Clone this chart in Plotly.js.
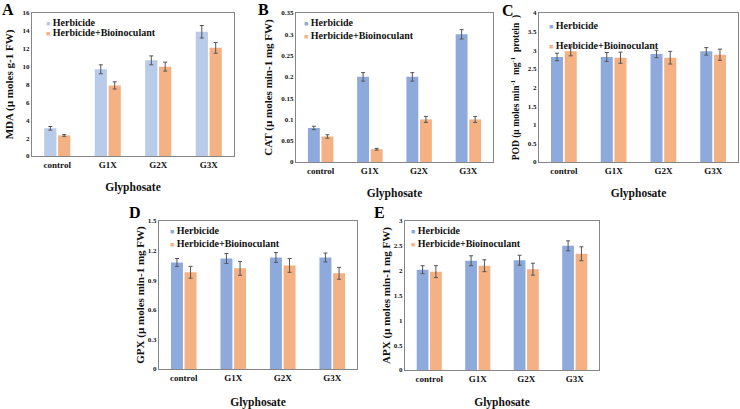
<!DOCTYPE html>
<html>
<head>
<meta charset="utf-8">
<script src="https://cdn.plot.ly/plotly-3.0.1.min.js"></script>
<style>
  html, body { margin: 0; padding: 0; background: #fff; }
  #chart { width: 740px; height: 409px; }
</style>
</head>
<body>
<div id="chart"></div>
<script>
// categories
const doses = ["control", "G1X", "G2X", "G3X"];
const seriesNames = ["Herbicide", "Herbicide+Bioinoculant"];

// A - MDA
const mdaHerb = [3.1, 9.7, 10.7, 13.9];
const mdaHerbErr = [0.2, 0.5, 0.5, 0.7];
const mdaBio = [2.3, 7.9, 10.0, 12.1];
const mdaBioErr = [0.1, 0.4, 0.5, 0.6];

// B - CAT
const catHerb = [0.08, 0.2, 0.2, 0.3];
const catHerbErr = [0.004, 0.01, 0.01, 0.011];
const catBio = [0.06, 0.03, 0.1, 0.1];
const catBioErr = [0.004, 0.002, 0.007, 0.007];

// C - POD
const podHerb = [2.82, 2.82, 2.9, 2.97];
const podHerbErr = [0.1, 0.12, 0.1, 0.1];
const podBio = [2.97, 2.8, 2.8, 2.88];
const podBioErr = [0.12, 0.15, 0.17, 0.15];

// D - GPX
const gpxHerb = [1.08, 1.12, 1.13, 1.13];
const gpxHerbErr = [0.04, 0.05, 0.05, 0.045];
const gpxBio = [0.98, 1.02, 1.05, 0.97];
const gpxBioErr = [0.06, 0.07, 0.07, 0.06];

// E - APX
const apxHerb = [2.02, 2.2, 2.21, 2.5];
const apxHerbErr = [0.08, 0.1, 0.1, 0.1];
const apxBio = [1.98, 2.1, 2.03, 2.34];
const apxBioErr = [0.12, 0.12, 0.12, 0.14];

const serif = "Liberation Serif, Times New Roman, serif";
const blueA = "#b8cbe9";
const blue = "#8eaadc";
const orange = "#f4b183";

function bars(vals, errs, name, color, ax) {
  return {
    type: "bar",
    x: doses,
    y: vals,
    name: name,
    xaxis: "x" + ax,
    yaxis: "y" + ax,
    showlegend: false,
    marker: {color: color, line: {width: 0}},
    error_y: {type: "data", array: errs, visible: true, color: "#555", thickness: 1, width: 2}
  };
}

const data = [
  bars(mdaHerb, mdaHerbErr, seriesNames[0], blueA, ""),
  bars(mdaBio, mdaBioErr, seriesNames[1], orange, ""),
  bars(catHerb, catHerbErr, seriesNames[0], blue, "2"),
  bars(catBio, catBioErr, seriesNames[1], orange, "2"),
  bars(podHerb, podHerbErr, seriesNames[0], blue, "3"),
  bars(podBio, podBioErr, seriesNames[1], orange, "3"),
  bars(gpxHerb, gpxHerbErr, seriesNames[0], blue, "4"),
  bars(gpxBio, gpxBioErr, seriesNames[1], orange, "4"),
  bars(apxHerb, apxHerbErr, seriesNames[0], blue, "5"),
  bars(apxBio, apxBioErr, seriesNames[1], orange, "5")
];

const W = 740, H = 409;
function px(a, b) { return [a / W, b / W]; }
function py(top, bottom) { return [1 - bottom / H, 1 - top / H]; }

function xax(domain, anchor, standoff) {
  return {
    domain: domain, anchor: anchor,
    showline: true, mirror: true, linecolor: "#858585", linewidth: 1,
    ticks: "", showgrid: false, zeroline: false,
    tickfont: {family: serif, size: 9, color: "#111", weight: "bold"},
    title: {text: "Glyphosate", font: {family: serif, size: 11.5, color: "#111", weight: "bold"}, standoff: standoff},
    automargin: false
  };
}
function yax(domain, anchor, range, dtick, title, standoff, tsize) {
  return {
    domain: domain, anchor: anchor, range: range, dtick: dtick,
    showline: true, mirror: true, linecolor: "#858585", linewidth: 1,
    ticks: "", showgrid: false, zeroline: false,
    tickfont: {family: serif, size: 7, color: "#111", weight: "bold"},
    title: {text: title, font: {family: serif, size: tsize || 11, color: "#111", weight: "bold"}, standoff: standoff},
    automargin: false
  };
}
// small square key + series name, the way the source figure draws its keys
// textX = where the name starts, y = its vertical centre (pixels)
function key(name, color, textX, y) {
  return {
    text: '<span style="color:' + color + ';font-size:7px">■</span> ' + name,
    xref: "paper", yref: "paper", x: (textX - 9) / W, y: 1 - y / H,
    xanchor: "left", yanchor: "middle", showarrow: false,
    font: {family: serif, size: 10, color: "#111", weight: "bold"}
  };
}
// panel letter, y = top of its text box (pixels)
function letter(t, x, y) {
  return {text: t, xref: "paper", yref: "paper", x: x / W, y: 1 - y / H,
    showarrow: false, xanchor: "center", yanchor: "top", borderpad: 0,
    font: {family: serif, size: 16, color: "#000", weight: "bold"}};
}

const layout = {
  width: W, height: H,
  margin: {l: 0, r: 0, t: 0, b: 0},
  paper_bgcolor: "#fff", plot_bgcolor: "#fff",
  showlegend: false,
  barmode: "group", bargap: 0.45, bargroupgap: 0.12,
  xaxis: xax(px(32, 234), "y", 14),
  yaxis: yax(py(13, 156), "x", [0, 16], 2, "MDA (µ moles g-1 FW)", 6),
  xaxis2: xax(px(296, 493), "y2", 14),
  yaxis2: yax(py(13, 162), "x2", [0, 0.35], 0.05, "CAT (µ moles min-1 mg FW)", 6),
  xaxis3: xax(px(539, 738), "y3", 14),
  yaxis3: yax(py(13, 162), "x3", [0, 4], 0.5, "POD (µ moles min<sup>-1</sup>  mg<sup>-1</sup>  protein  )", 6, 9.5),
  xaxis4: xax(px(159, 357), "y4", 18),
  yaxis4: yax(py(221, 369), "x4", [0, 1.5], 0.3, "GPX (µ moles min-1 mg FW)", 0),
  xaxis5: xax(px(405, 599), "y5", 18),
  yaxis5: yax(py(221, 370), "x5", [0, 3], 0.5, "APX (µ moles min-1 mg FW)", 0),
  annotations: [
    key(seriesNames[0], blueA, 53, 22),
    key(seriesNames[1], orange, 53, 32),
    key(seriesNames[0], blue, 311, 23),
    key(seriesNames[1], orange, 311, 35),
    key(seriesNames[0], blue, 556, 26),
    key(seriesNames[1], orange, 556, 45),
    key(seriesNames[0], blue, 177, 230),
    key(seriesNames[1], orange, 177, 243),
    key(seriesNames[0], blue, 418, 230),
    key(seriesNames[1], orange, 418, 243),
    letter("A", 8, 0),
    letter("B", 263, 0),
    letter("C", 508, 1),
    letter("D", 135, 203),
    letter("E", 379, 203)
  ]
};

Plotly.newPlot("chart", data, layout, {displayModeBar: false, staticPlot: true});
</script>
</body>
</html>
